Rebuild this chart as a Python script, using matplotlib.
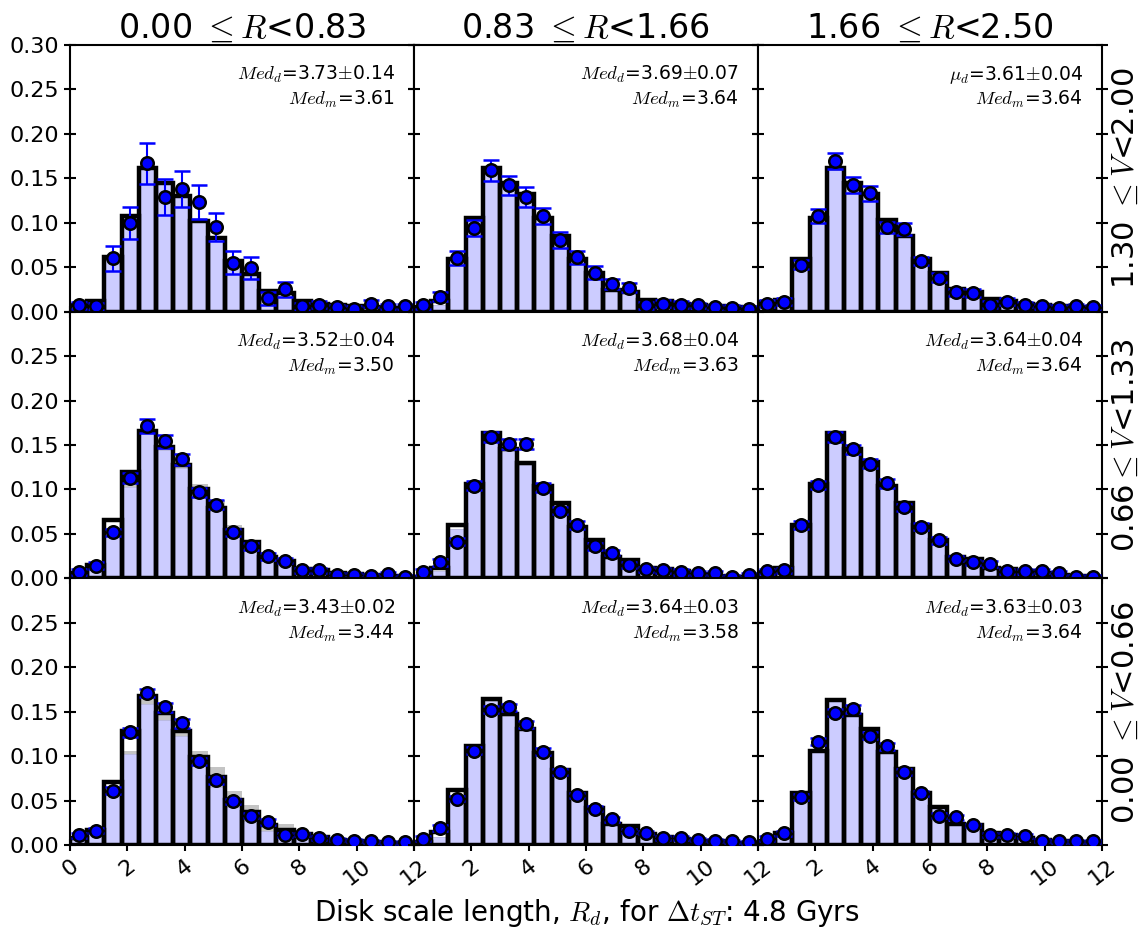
import matplotlib

matplotlib.use("Agg")
import matplotlib.pyplot as plt
import numpy as np

plt.rcParams["mathtext.fontset"] = "cm"

COL_LABELS = [r"0.00 $\leq R$<0.83", r"0.83 $\leq R$<1.66", r"1.66 $\leq R$<2.50"]
ROW_LABELS = [r"1.30 $\leq V$<2.00", r"0.66$\leq V$<1.33", r"0.00 $\leq V$<0.66"]

# annotation text per panel (row, col)
MED_D = [[r"$Med_d$=3.73$\pm$0.14", r"$Med_d$=3.69$\pm$0.07", r"$\mu_d$=3.61$\pm$0.04"],
         [r"$Med_d$=3.52$\pm$0.04", r"$Med_d$=3.68$\pm$0.04", r"$Med_d$=3.64$\pm$0.04"],
         [r"$Med_d$=3.43$\pm$0.02", r"$Med_d$=3.64$\pm$0.03", r"$Med_d$=3.63$\pm$0.03"]]
MED_M = [["3.61", "3.64", "3.64"],
         ["3.50", "3.63", "3.64"],
         ["3.44", "3.58", "3.64"]]

# black outline histogram
HIST_OUTLINE = [
    [[0.008, 0.012, 0.061, 0.108, 0.162, 0.145, 0.130, 0.102, 0.083, 0.057, 0.042, 0.023, 0.021, 0.012, 0.009, 0.007, 0.006, 0.005, 0.004, 0.004],
     [0.005, 0.012, 0.059, 0.105, 0.162, 0.145, 0.132, 0.105, 0.085, 0.059, 0.043, 0.024, 0.022, 0.013, 0.012, 0.009, 0.007, 0.006, 0.005, 0.004],
     [0.011, 0.013, 0.059, 0.105, 0.162, 0.145, 0.132, 0.103, 0.085, 0.059, 0.043, 0.025, 0.022, 0.014, 0.012, 0.009, 0.007, 0.006, 0.005, 0.004]],
    [[0.006, 0.015, 0.066, 0.120, 0.166, 0.148, 0.128, 0.100, 0.079, 0.054, 0.041, 0.024, 0.020, 0.011, 0.009, 0.006, 0.005, 0.004, 0.003, 0.002],
     [0.002, 0.012, 0.060, 0.106, 0.163, 0.145, 0.130, 0.104, 0.085, 0.058, 0.043, 0.024, 0.021, 0.012, 0.010, 0.008, 0.005, 0.003, 0.002, 0.002],
     [0.007, 0.012, 0.060, 0.106, 0.163, 0.145, 0.131, 0.104, 0.085, 0.060, 0.043, 0.024, 0.022, 0.012, 0.010, 0.008, 0.006, 0.004, 0.003, 0.002]],
    [[0.008, 0.017, 0.071, 0.128, 0.168, 0.148, 0.128, 0.099, 0.077, 0.051, 0.037, 0.023, 0.017, 0.012, 0.009, 0.006, 0.004, 0.003, 0.002, 0.002],
     [0.003, 0.015, 0.062, 0.111, 0.164, 0.147, 0.131, 0.104, 0.084, 0.059, 0.042, 0.024, 0.021, 0.012, 0.009, 0.007, 0.005, 0.004, 0.002, 0.002],
     [0.004, 0.014, 0.059, 0.106, 0.163, 0.146, 0.131, 0.105, 0.086, 0.059, 0.043, 0.024, 0.022, 0.014, 0.011, 0.008, 0.006, 0.004, 0.003, 0.002]],
]

# lavender filled histogram
HIST_FILL = [
    [[0.007, 0.011, 0.060, 0.107, 0.161, 0.144, 0.129, 0.101, 0.082, 0.056, 0.041, 0.022, 0.020, 0.011, 0.008, 0.006, 0.005, 0.004, 0.003, 0.003],
     [0.004, 0.008, 0.058, 0.104, 0.161, 0.144, 0.131, 0.104, 0.084, 0.058, 0.042, 0.023, 0.021, 0.012, 0.011, 0.008, 0.006, 0.005, 0.004, 0.003],
     [0.010, 0.012, 0.058, 0.104, 0.161, 0.144, 0.131, 0.102, 0.084, 0.058, 0.042, 0.024, 0.021, 0.013, 0.011, 0.008, 0.006, 0.005, 0.004, 0.003]],
    [[0.005, 0.013, 0.050, 0.103, 0.162, 0.144, 0.124, 0.096, 0.076, 0.050, 0.036, 0.020, 0.015, 0.009, 0.008, 0.005, 0.004, 0.003, 0.002, 0.002],
     [0.002, 0.008, 0.056, 0.104, 0.161, 0.143, 0.128, 0.102, 0.083, 0.056, 0.041, 0.022, 0.019, 0.011, 0.009, 0.007, 0.004, 0.003, 0.002, 0.001],
     [0.006, 0.011, 0.059, 0.105, 0.162, 0.144, 0.130, 0.103, 0.084, 0.059, 0.042, 0.023, 0.021, 0.011, 0.009, 0.007, 0.005, 0.003, 0.002, 0.001]],
    [[0.006, 0.013, 0.056, 0.102, 0.159, 0.141, 0.123, 0.089, 0.065, 0.043, 0.027, 0.016, 0.009, 0.008, 0.006, 0.004, 0.003, 0.002, 0.002, 0.001],
     [0.003, 0.009, 0.056, 0.108, 0.162, 0.145, 0.129, 0.102, 0.082, 0.057, 0.040, 0.022, 0.018, 0.011, 0.008, 0.006, 0.004, 0.003, 0.002, 0.001],
     [0.003, 0.013, 0.058, 0.105, 0.162, 0.145, 0.130, 0.104, 0.085, 0.058, 0.042, 0.023, 0.021, 0.013, 0.010, 0.007, 0.005, 0.003, 0.002, 0.001]],
]

# grey histogram (only rises above the others in two panels)
HIST_GREY = [
    [None, None, None],
    [[0.005, 0.013, 0.052, 0.106, 0.164, 0.146, 0.131, 0.106, 0.088, 0.060, 0.043, 0.030, 0.021, 0.013, 0.010, 0.006, 0.005, 0.004, 0.003, 0.002],
     None, None],
    [[0.007, 0.015, 0.058, 0.106, 0.164, 0.146, 0.132, 0.106, 0.088, 0.061, 0.045, 0.029, 0.024, 0.015, 0.011, 0.008, 0.005, 0.004, 0.003, 0.002],
     None, None],
]

# data points and their errors
POINTS = [
    [[0.007, 0.006, 0.060, 0.100, 0.167, 0.129, 0.138, 0.123, 0.095, 0.055, 0.049, 0.015, 0.025, 0.006, 0.008, 0.005, 0.003, 0.009, 0.006, 0.006],
     [0.007, 0.017, 0.060, 0.094, 0.159, 0.142, 0.129, 0.108, 0.081, 0.061, 0.044, 0.031, 0.027, 0.007, 0.009, 0.008, 0.007, 0.005, 0.004, 0.003],
     [0.009, 0.011, 0.053, 0.108, 0.169, 0.142, 0.133, 0.095, 0.093, 0.057, 0.038, 0.022, 0.021, 0.008, 0.011, 0.008, 0.006, 0.004, 0.006, 0.005]],
    [[0.007, 0.014, 0.052, 0.113, 0.171, 0.154, 0.134, 0.097, 0.083, 0.052, 0.036, 0.025, 0.020, 0.009, 0.009, 0.004, 0.004, 0.003, 0.005, 0.002],
     [0.007, 0.018, 0.041, 0.104, 0.159, 0.151, 0.151, 0.102, 0.076, 0.060, 0.036, 0.029, 0.015, 0.010, 0.009, 0.007, 0.006, 0.006, 0.002, 0.004],
     [0.008, 0.009, 0.060, 0.105, 0.159, 0.145, 0.129, 0.107, 0.080, 0.058, 0.043, 0.022, 0.018, 0.016, 0.008, 0.008, 0.008, 0.006, 0.002, 0.002]],
    [[0.011, 0.016, 0.061, 0.127, 0.171, 0.155, 0.137, 0.094, 0.073, 0.049, 0.033, 0.026, 0.011, 0.012, 0.008, 0.006, 0.005, 0.004, 0.003, 0.003],
     [0.007, 0.019, 0.052, 0.106, 0.152, 0.155, 0.136, 0.105, 0.082, 0.056, 0.041, 0.029, 0.016, 0.014, 0.008, 0.008, 0.006, 0.005, 0.004, 0.003],
     [0.007, 0.013, 0.054, 0.116, 0.149, 0.153, 0.123, 0.111, 0.082, 0.058, 0.033, 0.031, 0.022, 0.011, 0.011, 0.010, 0.005, 0.004, 0.004, 0.004]],
]
ERRORS = [
    [[0.004, 0.004, 0.014, 0.018, 0.023, 0.020, 0.020, 0.019, 0.016, 0.013, 0.012, 0.007, 0.008, 0.004, 0.004, 0.003, 0.003, 0.004, 0.003, 0.003],
     [0.004, 0.005, 0.008, 0.009, 0.012, 0.011, 0.011, 0.009, 0.009, 0.007, 0.007, 0.006, 0.005, 0.004, 0.004, 0.004, 0.003, 0.003, 0.003, 0.003],
     [0.004, 0.004, 0.005, 0.008, 0.009, 0.009, 0.008, 0.006, 0.007, 0.005, 0.005, 0.004, 0.004, 0.004, 0.004, 0.003, 0.003, 0.003, 0.003, 0.003]],
    [[0.003, 0.004, 0.004, 0.006, 0.008, 0.007, 0.006, 0.005, 0.005, 0.004, 0.004, 0.004, 0.003, 0.003, 0.003, 0.002, 0.002, 0.002, 0.002, 0.002],
     [0.003, 0.004, 0.004, 0.005, 0.006, 0.006, 0.006, 0.005, 0.004, 0.004, 0.004, 0.003, 0.003, 0.003, 0.003, 0.003, 0.002, 0.002, 0.002, 0.002],
     [0.003, 0.003, 0.004, 0.005, 0.006, 0.005, 0.005, 0.005, 0.004, 0.004, 0.004, 0.003, 0.003, 0.003, 0.003, 0.003, 0.002, 0.002, 0.002, 0.002]],
    [[0.003, 0.003, 0.004, 0.005, 0.005, 0.005, 0.005, 0.004, 0.004, 0.003, 0.003, 0.003, 0.002, 0.002, 0.002, 0.002, 0.002, 0.002, 0.002, 0.002],
     [0.003, 0.003, 0.003, 0.004, 0.004, 0.004, 0.004, 0.004, 0.003, 0.003, 0.003, 0.003, 0.002, 0.002, 0.002, 0.002, 0.002, 0.002, 0.002, 0.002],
     [0.003, 0.003, 0.003, 0.004, 0.004, 0.004, 0.004, 0.004, 0.003, 0.003, 0.003, 0.003, 0.002, 0.002, 0.002, 0.002, 0.002, 0.002, 0.002, 0.002]],
]

BIN_W = 0.6
centers = np.arange(20) * BIN_W + BIN_W / 2
YTICKS = [0.0, 0.05, 0.10, 0.15, 0.20, 0.25, 0.30]
XTICKS = [0, 2, 4, 6, 8, 10, 12]

fig, axes = plt.subplots(3, 3, figsize=(11.45, 9.34), dpi=100)
fig.subplots_adjust(left=0.0611, right=0.9624, bottom=0.0953, top=0.9518, wspace=0, hspace=0)

for r in range(3):
    for c in range(3):
        ax = axes[r, c]
        grey = HIST_GREY[r][c]
        if grey is not None:
            ax.bar(centers, grey, width=BIN_W, color="#c4c4c4", lw=0, zorder=1)
        ax.bar(centers, HIST_FILL[r][c], width=BIN_W, color="#ccccff", edgecolor="#b8b8e0",
               lw=0.6, zorder=2)
        ax.bar(centers, HIST_OUTLINE[r][c], width=BIN_W, fill=False, edgecolor="k", lw=3.2, zorder=3)
        ax.errorbar(centers, POINTS[r][c], yerr=ERRORS[r][c], fmt="o", ms=9, mfc="#0000ff",
                    mec="k", mew=1.8, ecolor="#0000ff", elinewidth=1.5, capsize=5.5, capthick=1.3,
                    zorder=4)
        ax.text(0.945, 0.888, MED_D[r][c], transform=ax.transAxes, ha="right", va="center",
                fontsize=13.5)
        ax.text(0.945, 0.795, r"$Med_m$=" + MED_M[r][c], transform=ax.transAxes, ha="right",
                va="center", fontsize=13.5)

        ax.set_xlim(0, 12)
        ax.set_ylim(0, 0.30)
        for s in ax.spines.values():
            s.set_linewidth(1.5)
        ax.tick_params(direction="inout", length=9, width=1.5, right=True, top=False,
                       labelsize=16)
        ax.set_xticks(XTICKS)
        ax.set_yticks(YTICKS)

        if c == 0:
            ax.set_yticklabels(["%.2f" % t if (r == 0 or t < 0.27) else "" for t in YTICKS])
        else:
            ax.set_yticklabels([])
        if r == 2:
            ax.set_xticklabels([str(t) if (c == 0 or t > 0) else "" for t in XTICKS],
                               rotation=38, ha="center")
        else:
            ax.set_xticklabels([])
        if r == 0:
            ax.set_title(COL_LABELS[c], fontsize=24, pad=5)
    fig.text(0.983, 1 - (45 + 267 * r + 133) / 934, ROW_LABELS[r], rotation=90, ha="center",
             va="center", fontsize=22)

fig.text(0.512, 0.023, r"Disk scale length, $R_d$, for $\Delta t_{ST}$: 4.8 Gyrs", ha="center",
         va="center", fontsize=20)

fig.savefig("out.png", dpi=100)
